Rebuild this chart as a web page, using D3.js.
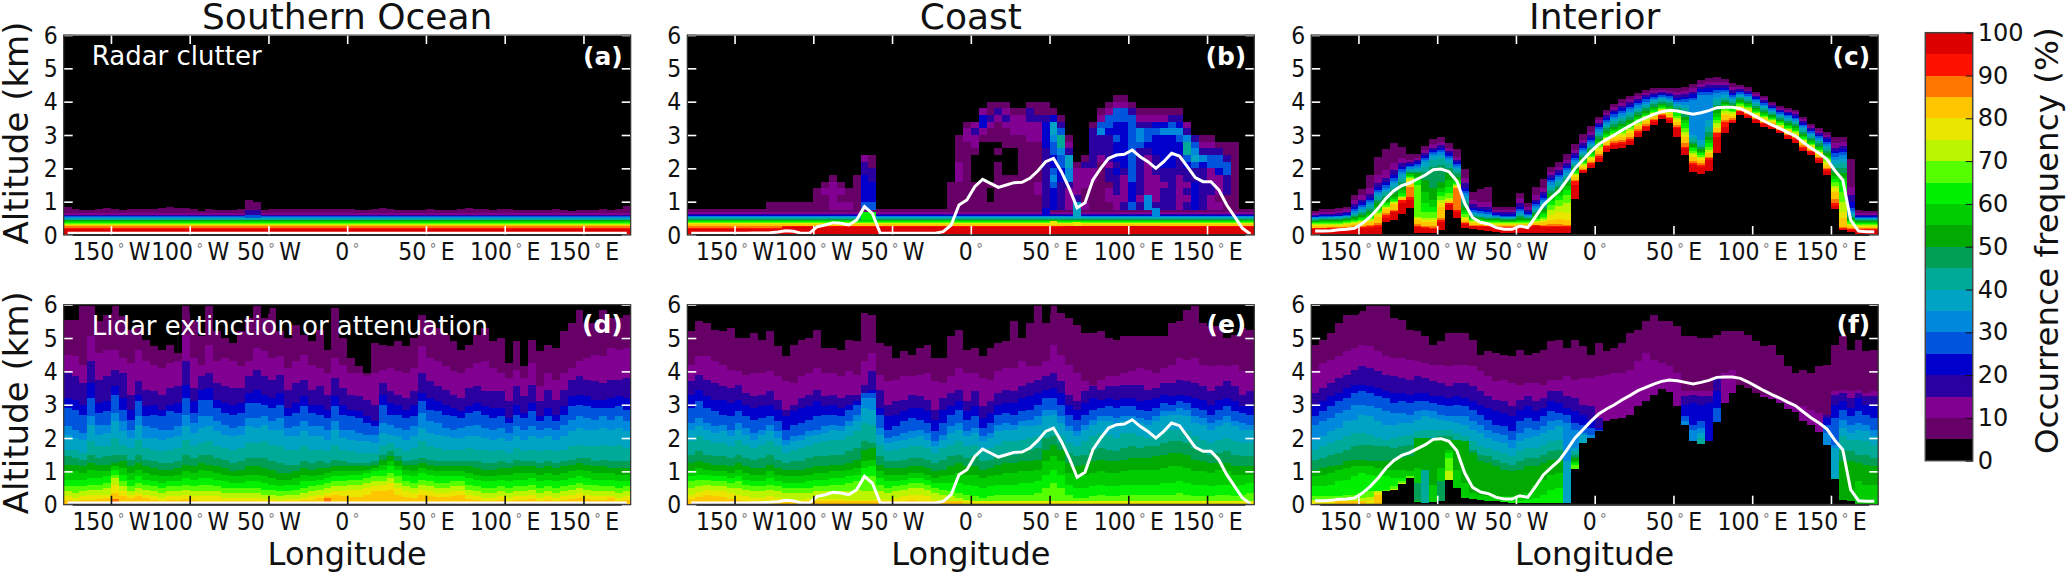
<!DOCTYPE html>
<html>
<head>
<meta charset="utf-8">
<script src="https://d3js.org/d3.v7.min.js"></script>
<style>
  body { margin: 0; background: #fff; }
  svg { display: block; font-family: "DejaVu Sans", sans-serif; }
  .cell { shape-rendering: crispEdges; }
</style>
</head>
<body>
<svg id="chart" width="2067" height="573"></svg>
<script>
// ======================
// Colour levels, 5 % wide (index 0 = 0-5 %)
// ======================
const levelColors = ["#000000","#660066","#820091","#2a00a0","#0000cc","#0055dd","#0088dd","#00a3c4","#00aa99","#009f55",
  "#00aa00","#00cc00","#00f000","#55ff00","#bbf600","#ebe600","#ffc600","#ff7700","#ff1100","#dd0000"];

const lonTicks = [-150, -100, -50, 0, 50, 100, 150];
const lonNames = [["150","W"],["100","W"],["50","W"],["0",""],["50","E"],["100","E"],["150","E"]];
const altTicks = [0, 1, 2, 3, 4, 5, 6];
const cbarTicks = [0, 10, 20, 30, 40, 50, 60, 70, 80, 90, 100];

// column centres, 5 degree bins
const lons = d3.range(-177.5, 180, 5);

// ======================
// Terrain lines (km), one value per column
// ======================
const elevOcean = [.05,.05,.05,.05,.05,.05,.05,.05,.05,.05,.05,.05, .05,.05,.05,.05,.05,.05,.05,.05,.05,.05,.05,.05, .05,.05,.05,.05,.05,.05,.05,.05,.05,.05,.05,.05, .05,.05,.05,.05,.05,.05,.05,.05,.05,.05,.05,.05, .05,.05,.05,.05,.05,.05,.05,.05,.05,.05,.05,.05, .05,.05,.05,.05,.05,.05,.05,.05,.05,.05,.05,.05];
const elevCoast = [.05,.05,.05,.05,.05,.05,.05,.05,.06,.06,.07,.09, .13,.11,.05,.05,.25,.3,.37,.35,.3,.45,.85,.65, .05,.05,.05,.05,.05,.05,.05,.05,.1,.3,.9,1.05, 1.45,1.67,1.55,1.43,1.5,1.57,1.58,1.7,1.92,2.2,2.3,1.9, 1.4,.82,.97,1.65,2.0,2.3,2.4,2.42,2.55,2.35,2.2,2.0, 2.2,2.45,2.37,2.05,1.72,1.6,1.6,1.35,.9,.55,.2,.03];
const elevInterior = [.12,.12,.13,.16,.17,.2,.35,.55,.8,1.1,1.33,1.48, 1.56,1.68,1.8,1.96,1.98,1.9,1.62,.95,.52,.38,.33,.22, .17,.17,.27,.22,.55,.9,1.12,1.33,1.65,2.0,2.25,2.5, 2.72,2.87,3.0,3.15,3.28,3.42,3.52,3.62,3.7,3.74,3.72,3.67, 3.62,3.67,3.73,3.82,3.83,3.83,3.79,3.68,3.55,3.42,3.3,3.2, 3.08,2.97,2.78,2.6,2.45,2.27,1.93,1.65,.45,.12,.1,.1];

// altitude below which nothing is retrieved over the interior (0.01 km)
const floorInterior = [0,0,0,0,0,0,0,0,0,40,45,62, 80,7,5,7,15,75,50,20,17,15,12,10, 7,5,5,5,5,5,5,5,5,108,185,200, 220,250,258,260,270,295,312,330,348,337,295,240, 190,183,192,247,305,335,360,350,335,324,318,305, 288,277,252,240,217,180,78,15,10,3,0,0];

// ======================
// Top altitude (0.01 km) of each colour level, level 1 first.
// A single number means the level stays flat along longitude.
// ======================
const oceanClutterTops = [
  [85,78,75,75,78,80,78,75,78,78,78,78, 80,85,82,80,78,73,78,75,75,75,78,105, 100,75,78,78,78,78,78,78,78,78,78,78, 78,75,75,78,80,78,75,75,75,75,78,75, 75,75,78,80,78,78,75,78,78,75,75,75, 75,75,78,75,72,75,75,75,78,75,78,88],
  66,60,58,56,54,51,49,46,44,41,39,36,34,31,29,26,22,19
];
const coastClutterTops = [
  77,68,62,60,58,56,53,51,49,46,44,42,39,37,35,32,28,
  [20,20,20,20,20,20,20,20,20,20,20,20, 26,26,26,26,26,26,26,26,26,26,26,26, 26,26,26,26,26,26,26,26,26,26,26,26, 28,28,28,28,28,28,28,28,28,28,28,28, 28,28,28,28,28,28,28,28,28,28,28,28, 28,28,28,28,28,28,28,28,28,28,28,28],
  [17,17,17,17,17,17,17,17,17,17,17,17, 24,24,24,24,24,24,24,24,24,24,24,24, 24,24,24,24,24,24,24,24,24,24,24,24, 25,25,25,25,25,25,25,25,25,25,25,25, 26,26,26,26,26,26,26,26,26,26,26,26, 25,25,25,25,25,25,25,25,25,25,25,25]
];
// coast, above 0.8 km: levels in 0.2 km steps, bottom up, one string per column
const coastUpperCols = ["","","","","","","","","","","1","1", "1","1","1","1","111","1121","22221","2121","211","11111","54444332","54443311",
  "","","","","","","","","","1111","11112221111","1111111111221",
  "1111000012232","111100000012442","1001000000112311","1111111010111231","1111100001112321","111110000112221","111111111112221","1111111111222331","1122111111222311","3333333334444311","444565445567741","33334455688531",
  "22236677321","7322221","21122231","1111223333331","111111123336521","1221332333345521","22333434445445521","32222344444445521","5444555555555531","323333333566321","662222223455321","322223334445421",
  "333233444446421","333333444446531","222223334456431","3232334588632","44443357653","33333346321","22332255321","2122245531","1133355311","1111111111","",""];

const interiorClutterTops = [
  [72,77,77,80,85,120,138,180,235,258,275,265, 243,243,268,287,293,275,257,198,130,137,145,85, 83,85,127,95,143,167,203,220,243,273,303,327, 355,375,393,407,418,425,435,440,441,440,441,445, 452,465,472,473,467,455,449,443,430,417,400,387, 382,375,355,333,320,310,293,293,227,75,72,72],
  [66,70,70,72,77,105,120,140,180,195,215,230, 225,232,255,272,280,260,235,170,105,100,100,76, 75,75,110,85,120,140,190,205,225,255,285,310, 346,366,384,397,408,416,426,433,434,433,430,433, 440,452,460,460,458,443,443,436,423,410,394,381, 375,368,348,326,313,301,275,280,145,66,65,65],
  [60,63,63,65,70,92,105,122,155,170,195,215, 218,225,245,262,270,252,225,155,92,85,85,70, 68,68,95,75,105,130,180,195,215,245,275,300, 337,359,375,388,399,408,419,426,429,427,420,422, 430,445,450,450,450,434,437,431,418,405,389,376, 370,362,342,321,307,293,260,268,120,60,60,60],
  [57,59,60,61,65,85,98,112,145,158,180,205, 212,218,238,255,262,245,218,140,82,78,75,65, 62,62,85,68,98,120,172,187,207,238,268,292, 331,352,369,381,391,402,413,420,424,421,412,415, 422,438,440,442,442,427,433,426,413,400,385,372, 365,357,336,316,301,287,252,258,100,57,57,57],
  [55,56,57,58,61,78,90,104,135,150,170,198, 208,212,232,250,255,238,212,132,75,72,68,60, 58,58,78,63,92,112,165,180,200,232,262,286, 324,346,362,373,384,395,407,415,420,416,406,408, 412,428,430,435,435,421,429,422,408,396,381,368, 360,352,331,312,296,280,245,250,80,55,55,55],
  [53,54,55,56,58,72,84,98,128,142,162,190, 203,207,226,243,248,232,207,125,70,66,63,57, 55,55,72,60,86,105,158,173,194,226,255,280, 317,340,355,366,377,389,400,409,415,411,400,400, 405,420,420,425,428,415,424,418,404,391,377,364, 356,347,326,307,291,274,235,240,72,52,52,52],
  [51,52,53,54,56,67,78,92,122,135,155,182, 198,202,220,236,240,226,202,118,65,62,59,55, 53,53,66,57,80,98,150,166,187,219,248,273, 310,334,348,358,369,382,394,404,410,406,394,390, 300,285,345,415,420,409,420,413,399,386,373,360, 351,343,321,302,286,267,225,228,66,50,50,50],
  [49,50,50,51,53,62,72,85,115,128,145,170, 194,196,205,225,230,215,195,105,60,58,55,53, 51,51,60,54,74,92,142,158,178,213,242,266, 304,327,342,351,362,376,388,398,406,401,388,380, 290,270,325,405,412,403,415,408,394,382,369,356, 346,338,316,298,281,260,212,215,60,47,47,47],
  [46,47,47,48,50,57,66,78,105,118,135,158, 190,190,190,205,210,200,185,95,56,54,52,50, 48,48,56,51,68,85,132,148,168,207,236,260, 296,320,334,342,353,368,381,392,400,395,382,370, 280,265,310,390,405,396,410,402,388,376,364,351, 341,332,310,292,275,253,200,200,55,45,45,45],
  [43,44,44,45,47,53,60,70,95,108,125,145, 186,185,165,140,160,185,175,85,53,50,48,47, 45,45,50,48,62,78,122,138,158,201,230,254, 288,312,325,333,344,360,373,385,394,388,376,355, 272,258,295,375,398,390,404,396,382,370,359,346, 335,326,303,286,268,245,188,185,50,42,42,42],
  [40,41,41,42,44,49,55,63,85,100,115,135, 182,175,130,105,140,165,165,75,50,47,45,44, 42,42,45,45,56,70,112,128,148,196,225,248, 281,306,319,326,337,354,367,380,390,383,370,345, 265,250,285,365,392,384,400,392,378,366,355,342, 330,321,298,282,263,238,178,172,46,39,39,39],
  [38,38,38,39,41,45,50,57,78,95,108,125, 178,165,95,85,130,145,158,68,47,44,42,41, 40,40,42,42,51,62,102,118,135,191,220,243, 274,300,312,319,329,347,361,374,385,378,365,335, 260,245,275,355,385,378,396,387,373,361,351,338, 326,316,293,277,258,232,168,160,42,36,36,36],
  [35,35,35,36,38,42,46,52,72,90,102,118, 175,150,70,68,118,125,153,62,44,42,40,38, 38,38,40,40,47,55,90,105,120,187,216,238, 269,295,307,313,323,342,356,370,381,374,358,320, 253,240,265,345,378,373,392,383,369,357,348,335, 322,312,289,273,254,227,158,130,38,33,33,33],
  [32,32,33,33,35,39,42,47,66,85,98,115, 170,55,52,52,105,110,150,55,41,39,37,36, 36,36,37,37,43,48,75,88,95,183,212,234, 263,290,301,307,317,337,351,365,378,370,350,310, 246,235,255,335,372,368,388,380,365,354,344,331, 318,308,285,270,250,222,148,100,34,30,30,30],
  [30,30,30,31,33,36,38,42,60,80,95,112, 165,50,46,45,95,105,148,50,38,36,35,34, 33,33,34,34,39,43,60,68,65,179,208,230, 258,285,296,301,311,331,346,361,374,366,345,300, 240,230,250,325,365,363,385,376,362,350,341,328, 314,304,281,266,246,216,140,70,30,27,27,27],
  [27,27,28,28,30,33,35,38,53,78,92,110, 158,45,40,38,85,102,145,45,36,34,32,31, 31,31,32,32,36,38,45,48,45,175,205,226, 252,280,290,295,305,326,342,356,370,362,340,295, 235,225,245,320,360,358,381,372,358,346,338,325, 311,300,277,262,242,211,130,50,27,25,25,25],
  [22,22,23,23,25,27,28,30,35,65,75,106, 145,32,28,26,50,97,140,38,31,29,28,27, 27,27,28,28,31,31,32,32,31,166,199,219, 243,271,281,285,295,317,333,349,364,355,330,275, 222,215,235,310,345,350,375,366,351,340,332,319, 304,294,270,256,235,202,108,25,21,20,20,20],
  [20,20,20,20,22,25,25,26,30,60,72,105, 115,28,24,22,45,95,75,35,28,27,26,25, 25,25,26,26,29,28,28,28,28,161,196,215, 238,266,276,279,289,312,328,344,360,350,325,265, 215,210,230,305,340,345,372,362,347,336,329,316, 300,290,265,252,230,197,95,20,18,18,17,17],
  [17,17,17,18,19,22,22,22,25,52,68,95, 105,24,20,18,40,90,70,32,26,24,24,23, 22,22,23,24,26,25,25,25,25,150,192,210, 232,261,270,273,283,307,323,340,356,346,320,260, 210,205,225,295,325,340,368,358,344,332,325,312, 296,286,261,248,226,192,88,17,15,15,15,15]
];

const oceanLidarTops = [
  [555,555,595,595,550,570,595,565,525,530,495,475, 465,480,455,595,550,505,595,520,500,485,520,560, 595,560,590,520,500,540,510,490,525,465,590,500, 440,415,395,485,480,475,490,475,500,570,550,530, 510,490,465,480,510,530,490,500,425,490,415,495, 460,480,470,520,545,585,545,545,585,560,560,570],
  [450,445,420,505,455,465,465,440,425,465,430,420, 410,425,430,510,440,420,480,430,440,430,415,430, 470,460,440,445,410,430,450,420,410,395,440,420, 395,395,385,395,405,410,400,395,410,475,440,430, 415,400,395,410,425,430,410,395,380,405,380,425, 355,395,375,395,410,430,440,450,445,470,465,470],
  [395,385,365,430,375,385,405,395,330,370,345,340, 330,350,355,430,350,385,395,365,355,350,350,385, 405,385,375,390,345,365,375,345,355,330,380,350, 330,325,315,300,365,340,330,320,340,395,370,355, 345,330,320,350,355,340,340,340,310,355,325,360, 310,345,315,345,375,385,375,370,365,375,375,380],
  [320,315,300,365,305,310,355,320,285,330,295,300, 285,300,305,360,310,345,350,315,305,300,305,335, 345,330,320,335,290,305,325,300,300,285,325,300, 285,280,265,250,330,305,300,285,300,335,320,310, 300,290,280,295,305,295,290,290,260,300,275,305, 265,290,270,295,325,330,325,315,315,320,325,320],
  [290,285,270,320,275,280,330,285,255,310,265,270, 265,280,275,320,275,315,315,290,275,270,275,305, 305,300,290,300,265,275,295,275,270,260,295,270, 265,260,245,235,300,270,270,260,265,310,285,280, 270,265,260,275,280,270,260,265,245,270,260,280, 250,265,250,270,295,300,295,290,290,290,295,285],
  [235,225,215,265,240,240,275,250,225,265,235,230, 225,225,235,270,245,265,265,250,240,230,235,260, 260,265,250,260,230,235,250,235,235,225,250,225, 225,215,210,210,245,240,230,225,235,275,250,245, 230,225,230,235,240,230,225,230,215,235,225,235, 225,230,225,240,255,265,260,255,265,255,265,250],
  [210,200,195,240,210,215,250,220,200,240,200,200, 195,200,205,235,215,230,235,220,210,205,210,235, 230,240,225,225,205,205,220,205,205,195,225,200, 195,190,190,185,215,210,205,195,205,230,215,210, 205,200,200,205,205,200,195,200,190,205,195,205, 200,205,195,205,220,230,225,225,230,225,230,220],
  [165,165,155,190,175,175,200,180,170,195,170,165, 160,165,170,195,175,185,190,175,170,165,170,185, 185,190,180,175,165,165,175,165,165,160,180,165, 160,155,155,155,175,185,170,160,170,190,175,170, 165,165,165,170,165,165,160,165,155,170,160,165, 160,165,160,165,175,180,175,175,180,175,180,170],
  [145,140,135,150,140,145,150,150,135,150,135,130, 125,125,130,150,140,150,150,140,135,125,130,140, 140,140,130,125,120,120,130,125,130,125,135,130, 125,125,125,130,150,160,145,130,135,140,135,130, 130,130,130,130,130,125,125,130,125,135,130,130, 125,130,125,130,135,140,140,130,135,130,130,130],
  [120,120,115,125,120,120,125,130,115,125,115,110, 105,105,110,120,115,125,120,115,110,100,105,115, 115,110,105,95,95,100,110,105,110,110,115,115, 115,115,115,120,135,145,130,120,120,125,120,115, 115,115,115,115,110,105,105,110,110,115,115,115, 110,115,110,115,120,125,120,115,115,110,110,110],
  [100,100,95,105,100,100,115,110,95,105,95,90, 85,85,90,100,95,105,100,95,90,85,85,90, 90,85,80,75,75,80,90,85,90,95,100,100, 100,100,105,110,120,130,115,105,100,110,105,100, 100,100,100,95,90,85,85,90,90,95,95,95, 90,95,90,95,100,105,100,95,95,95,90,90],
  [75,75,75,80,80,85,105,90,75,85,75,70, 65,70,70,80,75,80,80,75,70,65,65,70, 70,65,60,55,60,60,70,70,75,80,85,85, 90,90,95,100,105,115,105,90,85,95,90,85, 85,85,85,80,75,70,70,75,70,75,75,80, 70,75,70,75,80,85,80,75,75,75,70,70],
  [55,55,55,60,60,65,90,70,55,65,60,55, 50,55,55,60,55,60,60,55,50,50,50,50, 50,45,45,40,40,45,50,55,60,65,70,70, 75,75,80,85,85,95,85,70,65,75,70,65, 65,70,70,60,55,50,50,55,50,55,55,60, 50,55,50,55,60,65,60,60,55,55,50,55],
  [40,35,40,45,45,50,80,55,40,50,45,40, 35,40,40,45,40,40,40,40,35,35,35,35, 35,30,30,25,30,30,35,40,45,50,55,55, 60,60,65,70,70,80,65,55,50,60,55,50, 50,55,55,45,40,35,35,40,35,40,40,45, 35,40,35,40,45,50,45,40,40,40,35,40],
  [25,20,25,30,30,30,60,40,30,35,30,25, 20,25,25,30,25,25,25,25,20,20,20,20, 20,18,18,15,18,18,20,25,30,35,40,40, 45,45,50,55,60,65,50,40,35,45,40,35, 35,40,40,30,25,20,20,25,20,25,25,30, 20,25,20,25,30,35,30,25,25,25,20,25],
  [15,12,15,15,18,20,35,25,20,25,20,15, 12,15,15,18,15,12,12,12,12,12,12,12, 12,10,10,10,10,12,15,15,20,25,30,25, 22,22,28,40,42,45,28,22,20,30,25,22, 22,25,28,18,15,12,12,15,12,15,15,18, 12,15,12,15,18,20,18,15,15,20,12,15],
  [0,0,0,0,0,0,18,0,0,0,0,0, 0,0,0,0,0,0,0,0,0,0,0,0, 0,0,0,0,0,0,0,0,0,20,0,0, 0,0,0,0,0,0,0,0,0,0,0,0, 0,0,0,0,0,0,0,0,0,0,0,0, 0,0,0,0,0,0,0,0,0,0,0,0]
];

const coastLidarTops = [
  [520,550,545,525,520,530,500,500,515,495,520,475, 445,480,495,500,525,470,470,465,495,490,575,570, 485,475,440,460,450,470,480,440,440,505,525,465, 470,445,470,485,490,550,500,545,595,545,595,575, 560,540,515,515,520,500,495,505,505,505,505,505, 505,545,550,585,595,545,535,535,500,510,530,525],
  [420,445,445,430,420,405,400,390,395,395,400,385, 370,365,385,395,410,395,395,385,400,390,430,455, 390,370,375,385,385,390,395,370,365,385,410,395, 395,380,375,400,410,410,430,415,415,430,480,450, 420,395,370,360,375,385,385,395,400,410,405,395, 410,420,440,435,440,420,415,420,415,420,400,395],
  [370,390,375,365,355,350,360,335,325,330,340,315, 285,300,320,330,345,325,330,320,330,330,360,400, 345,300,310,315,330,325,315,285,320,335,345,310, 340,295,310,335,345,340,355,365,375,385,395,370, 330,310,340,355,345,355,355,360,360,360,345,350, 365,365,375,370,365,355,340,355,370,355,330,340],
  [330,345,325,315,315,305,315,300,290,295,300,285, 265,280,290,295,310,295,300,290,300,310,330,345, 290,265,270,280,290,290,280,255,285,295,310,280, 295,260,275,300,305,305,320,325,335,345,350,335, 300,285,305,320,315,320,315,320,320,310,315,320, 330,325,330,325,320,315,300,315,320,310,295,300],
  [290,310,290,280,270,265,280,265,255,260,265,250, 225,240,245,255,265,270,270,265,285,300,335,335, 270,225,235,250,260,255,245,220,245,270,285,255, 265,230,245,270,275,270,280,285,300,320,320,300, 270,255,270,285,290,295,290,295,295,285,280,290, 305,300,310,305,290,285,270,285,295,280,275,270],
  [245,260,245,235,240,225,245,230,215,225,240,220, 195,205,210,220,225,235,240,235,250,270,320,320, 230,200,205,215,220,225,215,190,210,235,245,220, 230,205,215,240,245,240,250,255,265,285,285,265, 235,220,240,255,265,265,260,265,265,260,255,265, 280,280,290,285,265,260,245,255,265,250,245,240],
  [225,235,225,215,220,205,225,210,195,210,220,200, 180,190,195,205,210,215,225,220,235,250,290,285, 210,185,190,195,200,205,195,175,195,215,225,205, 215,190,200,220,225,225,235,235,240,265,270,245, 220,205,225,240,250,250,240,250,250,245,240,250, 265,270,270,265,245,240,225,235,245,235,225,225],
  [190,205,195,185,185,175,195,180,170,180,190,175, 155,165,170,175,185,190,195,195,205,220,245,240, 180,160,165,170,175,175,170,155,170,180,190,175, 180,165,170,180,190,190,195,200,205,225,230,205, 185,175,190,205,215,210,200,215,215,205,200,210, 220,225,225,220,205,195,185,195,200,190,185,185],
  [150,160,150,145,145,140,150,140,135,140,150,135, 125,130,130,140,145,145,150,150,160,170,190,185, 145,130,130,135,140,140,135,125,135,145,150,140, 145,130,135,145,150,150,160,165,170,200,205,185, 155,145,150,165,170,165,160,170,175,170,175,175, 185,190,190,185,170,165,150,155,160,150,145,145],
  [125,130,125,120,120,115,125,115,110,110,120,110, 105,105,105,110,115,115,120,120,125,135,165,170, 120,110,110,110,115,115,110,100,105,115,125,115, 115,105,110,120,125,125,130,130,135,165,180,165, 125,115,120,130,135,130,130,135,140,140,140,145, 150,155,155,150,135,130,125,125,125,115,115,115],
  [105,110,105,100,100,95,105,95,90,90,100,90, 85,85,85,90,95,95,100,100,105,110,130,135, 100,90,90,90,95,95,90,80,85,90,95,90, 90,80,85,90,95,95,100,100,105,130,145,130, 95,85,90,95,100,95,95,100,105,105,105,105, 110,115,115,110,100,100,95,105,100,90,90,90],
  [85,90,90,85,85,80,85,75,70,70,80,70, 65,65,65,70,75,75,80,80,85,90,110,115, 80,70,70,75,80,80,75,65,65,65,65,60, 55,50,55,60,60,60,65,65,70,90,105,90, 60,50,50,55,60,55,55,60,60,60,60,60, 65,65,70,65,60,60,55,60,60,55,60,65],
  [70,75,75,70,70,65,70,60,55,55,60,55, 50,50,50,50,55,55,60,60,65,70,85,85, 60,50,55,60,65,65,60,50,45,40,35,30, 25,20,25,30,30,30,30,30,35,50,65,50, 30,20,20,25,30,25,25,30,30,30,30,30, 30,30,35,30,25,25,25,30,30,25,30,35],
  [50,55,60,55,55,50,50,45,40,40,45,40, 35,35,35,35,40,40,40,40,40,45,40,40, 40,35,40,45,50,50,45,35,30,25,20,15, 12,12,12,12,12,12,12,12,12,12,12,12, 12,12,12,12,12,12,12,12,12,12,12,12, 12,12,12,12,12,12,12,12,12,12,12,12],
  [30,38,45,42,40,35,30,25,20,20,25,20, 15,15,15,18,18,18,18,18,15,15,15,15, 18,15,20,25,30,30,25,15,12,12,12,10, 10,10,10,10,10,10,10,10,10,10,10,10, 10,10,10,10,10,10,10,10,10,10,10,10, 10,10,10,10,10,10,10,10,10,10,10,10],
  [18,22,28,25,22,18,15,12,10,10,10,10, 10,10,10,10,10,10,10,10,10,10,10,10, 10,10,10,12,15,12,10,10,10,10,10,0, 0,0,0,0,0,0,0,0,0,0,0,0, 0,0,0,0,0,0,0,0,0,0,0,0, 0,0,0,0,0,0,0,0,0,0,0,0]
];

const interiorLidarTops = [
  [480,495,515,545,570,570,580,595,595,595,560,555, 525,520,505,480,490,515,515,515,495,450,460,455, 450,445,465,450,455,465,490,495,470,495,475,450, 485,460,470,485,515,525,550,570,550,550,535,505, 505,500,500,510,520,520,520,510,490,475,480,450, 415,395,405,395,415,420,480,505,465,495,460,465],
  [405,425,435,445,460,470,480,475,460,445,440,440, 435,430,425,420,420,415,420,420,415,400,385,370, 375,365,360,365,365,360,375,375,385,375,380,380, 385,390,395,395,405,430,455,435,425,415,395,340, 340,340,340,380,395,405,360,345,335,330,325,320, 310,300,295,285,275,265,340,345,340,345,335,340],
  [335,350,365,380,390,405,415,410,400,390,385,380, 375,385,380,370,365,355,365,365,355,340,325,315, 310,295,315,325,310,320,340,340,325,320,300,295, 260,0,0,0,0,0,0,0,0,0,0,325, 330,325,325,380,0,0,0,0,0,0,0,0, 0,0,0,0,0,270,330,335,320,335,325,325],
  [295,310,325,335,350,360,360,355,350,340,335,335, 330,335,335,325,325,320,325,320,310,300,290,280, 275,265,285,295,280,290,310,305,290,280,270,255, 230,0,0,0,0,0,0,0,0,0,0,300, 305,300,305,340,0,0,0,0,0,0,0,0, 0,0,0,0,0,260,300,310,290,320,300,300],
  [265,280,295,310,320,335,340,335,325,320,305,310, 305,310,310,305,300,295,300,295,285,270,255,240, 235,220,250,260,250,265,280,275,270,245,240,230, 225,0,0,0,0,0,0,0,0,0,0,265, 240,250,0,290,0,0,0,0,0,0,0,0, 0,0,0,0,0,240,260,285,265,280,270,260],
  [240,250,260,275,285,300,300,295,290,280,275,275, 270,280,285,280,270,265,265,265,250,240,225,215, 210,195,215,230,225,235,250,255,245,225,215,210, 0,0,0,0,0,0,0,0,0,0,0,250, 225,230,0,0,0,0,0,0,0,0,0,0, 0,0,0,0,0,215,180,255,240,245,240,225],
  [195,205,220,230,250,255,270,265,250,240,240,245, 245,255,265,260,255,250,245,240,225,215,200,190, 185,170,190,200,205,215,225,235,130,170,210,0, 0,0,0,0,0,0,0,0,0,0,0,0, 0,215,0,0,0,0,0,0,0,0,0,0, 0,0,0,0,0,0,170,230,215,225,220,205],
  [165,175,185,195,205,215,215,210,200,195,200,205, 210,220,225,225,225,225,215,205,190,175,170,160, 155,145,160,170,170,180,190,195,0,160,0,0, 0,0,0,0,0,0,0,0,0,0,0,0, 0,200,0,0,0,0,0,0,0,0,0,0, 0,0,0,0,0,0,80,205,195,195,190,180],
  [135,140,150,155,165,175,180,180,175,175,170,175, 180,190,195,200,205,205,195,185,165,150,145,135, 125,120,130,140,140,150,160,165,0,150,0,0, 0,0,0,0,0,0,0,0,0,0,0,0, 0,0,0,0,0,0,0,0,0,0,0,0, 0,0,0,0,0,0,0,165,160,150,150,140],
  [105,110,115,120,130,135,135,130,130,130,135,140, 145,200,200,195,195,195,195,190,155,130,125,115, 105,100,105,115,115,125,135,135,0,140,0,0, 0,0,0,0,0,0,0,0,0,0,0,0, 0,0,0,0,0,0,0,0,0,0,0,0, 0,0,0,0,0,0,0,130,130,125,120,115],
  [85,90,95,105,110,115,115,115,110,105,105,105, 100,110,60,60,110,165,105,65,35,30,25,25, 25,25,30,35,60,75,90,95,0,130,0,0, 0,0,0,0,0,0,0,0,0,0,0,0, 0,0,0,0,0,0,0,0,0,0,0,0, 0,0,0,0,0,0,0,0,0,70,60,60],
  [55,55,60,70,75,85,95,90,85,85,80,80, 80,0,0,0,0,155,0,0,0,0,0,0, 12,12,12,15,20,30,45,50,0,125,0,0, 0,0,0,0,0,0,0,0,0,0,0,0, 0,0,0,0,0,0,0,0,0,0,0,0, 0,0,0,0,0,0,0,0,0,0,0,0],
  [25,25,25,25,30,30,35,40,42,45,55,70, 85,0,0,0,0,140,0,0,0,0,0,0, 0,0,0,0,0,0,0,0,0,120,0,0, 0,0,0,0,0,0,0,0,0,0,0,0, 0,0,0,0,0,0,0,0,0,0,0,0, 0,0,0,0,0,0,0,0,0,0,0,0],
  [15,15,15,15,18,18,20,22,40,40,48,65, 0,0,0,0,0,100,0,0,0,0,0,0, 0,0,0,0,0,0,0,0,0,0,0,0, 0,0,0,0,0,0,0,0,0,0,0,0, 0,0,0,0,0,0,0,0,0,0,0,0, 0,0,0,0,0,0,0,0,0,0,0,0],
  [12,12,12,12,12,12,12,15,38,0,0,0, 0,0,0,0,0,0,0,0,0,0,0,0, 0,0,0,0,0,0,0,0,0,0,0,0, 0,0,0,0,0,0,0,0,0,0,0,0, 0,0,0,0,0,0,0,0,0,0,0,0, 0,0,0,0,0,0,0,0,0,0,0,0],
  [0,0,0,10,10,10,10,0,30,0,0,0, 0,0,0,0,0,0,0,0,0,0,0,0, 0,0,0,0,0,0,0,0,0,0,0,0, 0,0,0,0,0,0,0,0,0,0,0,0, 0,0,0,0,0,0,0,0,0,0,0,0, 0,0,0,0,0,0,0,0,0,0,0,0]
];

// anomalies that break the stacking: [lon from, lon to, alt from, alt to, level] (alt in 0.01 km)
const oceanClutterPatches = [[-65,-55,60,75,3],[-65,-55,52,60,5]];
const coastClutterPatches = [[65,70,55,80,7],[115,120,55,80,6],[45,50,60,80,4],[-70,-60,45,68,12],[50,55,30,42,15],[65,70,28,40,15]];
const interiorLidarPatches = [[-110,-105,5,105,8],[-115,-110,10,65,9],[-100,-95,10,70,9]];

// ======================
// Layout
// ======================
const colLefts = [63.7, 687.3, 1311.2];
const rowTops = [35, 304.7];
const panelW = 567;
const panelH = 200;
const tickLen = 9;
const squeeze = 0.88; // tick labels are narrower than they are tall in the reference

const panels = [
  { id: "(a)", col: 0, row: 0, tops: oceanClutterTops, patches: oceanClutterPatches, elev: elevOcean, title: "Southern Ocean", note: "Radar clutter", lowTick: "#fff", highTick: "#fff" },
  { id: "(b)", col: 1, row: 0, tops: coastClutterTops, upper: coastUpperCols, patches: coastClutterPatches, elev: elevCoast, title: "Coast", lowTick: "#fff", highTick: "#fff" },
  { id: "(c)", col: 2, row: 0, tops: interiorClutterTops, floor: floorInterior, elev: elevInterior, title: "Interior", lowTick: "#fff", highTick: "#fff" },
  { id: "(d)", col: 0, row: 1, tops: oceanLidarTops, elev: elevOcean, note: "Lidar extinction or attenuation", lowTick: "#111", highTick: "#000" },
  { id: "(e)", col: 1, row: 1, tops: coastLidarTops, elev: elevCoast, lowTick: "#111", highTick: "#000" },
  { id: "(f)", col: 2, row: 1, tops: interiorLidarTops, floor: floorInterior, patches: interiorLidarPatches, elev: elevInterior, lowTick: "#fff", highTick: "#000" }
];

const svg = d3.select("#chart");
panels.forEach(drawPanel);
drawColorbar();

function drawPanel(p) {
  const left = colLefts[p.col];
  const top = rowTops[p.row];
  const g = svg.append("g").attr("transform", `translate(${left},${top})`);

  const x = d3.scaleLinear().domain([-180, 180]).range([0, panelW]);
  const y = d3.scaleLinear().domain([0, 6]).range([panelH, 0]);

  g.append("rect").attr("width", panelW).attr("height", panelH).attr("fill", "#000");

  // one rect per level and column, painted from low to high level
  const cells = [];
  p.tops.forEach((row, k) => {
    lons.forEach((lon, i) => {
      const topVal = typeof row === "number" ? row : row[i];
      const base = p.floor ? p.floor[i] : 0;
      if (topVal > base) cells.push({ x0: lon - 2.5, x1: lon + 2.5, a0: base, a1: topVal, level: k + 1 });
    });
  });
  if (p.upper) {
    p.upper.forEach((col, i) => {
      col.split("").forEach((ch, r) => {
        cells.push({ x0: lons[i] - 2.5, x1: lons[i] + 2.5, a0: r === 0 ? 75 : 80 + r * 20, a1: 100 + r * 20, level: +ch });
      });
    });
  }
  (p.patches || []).forEach(d => cells.push({ x0: d[0], x1: d[1], a0: d[2], a1: d[3], level: d[4] }));

  g.selectAll("rect.cell")
    .data(cells)
    .enter()
    .append("rect")
    .attr("class", "cell")
    .attr("x", d => x(d.x0))
    .attr("width", d => x(d.x1) - x(d.x0))
    .attr("y", d => y(d.a1 / 100))
    .attr("height", d => y(d.a0 / 100) - y(d.a1 / 100))
    .attr("fill", d => levelColors[d.level]);

  // terrain line
  const line = d3.line().x((d, i) => x(lons[i])).y(d => y(d));
  g.append("path")
    .datum(p.elev)
    .attr("d", line)
    .attr("fill", "none")
    .attr("stroke", "#fff")
    .attr("stroke-width", 3);

  // dark base line under the terrain line
  g.append("line")
    .attr("x1", x(lons[0])).attr("x2", x(lons[lons.length - 1]))
    .attr("y1", y(0)).attr("y2", y(0))
    .attr("stroke", "#222").attr("stroke-width", 2);

  // axes
  const bottom = g.append("g").attr("transform", `translate(0,${panelH})`)
    .call(d3.axisBottom(x).tickValues(lonTicks).tickSize(-tickLen).tickFormat(""));
  bottom.select(".domain").remove();
  bottom.selectAll("line").attr("stroke", p.lowTick).attr("stroke-width", 1.6);
  bottom.selectAll("text").each(function (d, i) {
    const t = d3.select(this).text(null).attr("y", 25).attr("dy", 0)
      .attr("transform", `scale(${squeeze},1)`)
      .attr("font-size", 25).attr("font-family", "DejaVu Sans").attr("fill", "#111");
    t.append("tspan").text(lonNames[i][0]);
    t.append("tspan").attr("dx", 3).attr("dy", -10).attr("font-size", 15).attr("fill", "#777").text("\u2218");
    t.append("tspan").attr("dx", lonNames[i][1] ? 4 : 0).attr("dy", 10).text(lonNames[i][1]);
  });

  const topAxis = g.append("g").call(d3.axisTop(x).tickValues(lonTicks).tickSize(-tickLen).tickFormat(""));
  topAxis.select(".domain").remove();
  topAxis.selectAll("line").attr("stroke", p.highTick).attr("stroke-width", 1.6);

  const leftAxis = g.append("g").call(d3.axisLeft(y).tickValues(altTicks).tickSize(-tickLen).tickFormat(d3.format("d")));
  leftAxis.select(".domain").remove();
  leftAxis.selectAll("line").attr("stroke", "#fff").attr("stroke-width", 1.6);
  leftAxis.selectAll("text").attr("x", -6 / squeeze).attr("transform", `scale(${squeeze},1)`)
    .attr("font-size", 25).attr("font-family", "DejaVu Sans").attr("fill", "#111");

  const rightAxis = g.append("g").attr("transform", `translate(${panelW},0)`)
    .call(d3.axisRight(y).tickValues(altTicks).tickSize(-tickLen).tickFormat(""));
  rightAxis.select(".domain").remove();
  rightAxis.selectAll("line").attr("stroke", "#fff").attr("stroke-width", 1.6);

  // frame
  g.append("rect").attr("width", panelW).attr("height", panelH)
    .attr("fill", "none").attr("stroke", "#333").attr("stroke-width", 1.2);
  if (p.row === 0) {
    g.append("line").attr("x1", tickLen).attr("x2", panelW - tickLen).attr("y1", 0).attr("y2", 0)
      .attr("stroke", "#bbb").attr("stroke-width", 1.2);
  }

  // texts
  if (p.title) {
    g.append("text").attr("x", panelW / 2).attr("y", -6.5).attr("text-anchor", "middle")
      .attr("font-size", 36).attr("fill", "#111").text(p.title);
  }
  if (p.note) {
    g.append("text").attr("x", 28).attr("y", 30).attr("font-size", 26).attr("fill", "#fff").text(p.note);
  }
  g.append("text").attr("x", panelW - 8).attr("y", p.row === 0 ? 30 : 28).attr("text-anchor", "end")
    .attr("font-size", 25).attr("font-weight", "bold").attr("fill", "#fff").text(p.id);

  if (p.col === 0) {
    g.append("text")
      .attr("transform", `translate(${-36},${panelH / 2 - 2}) rotate(-90)`)
      .attr("text-anchor", "middle").attr("font-size", 34).attr("fill", "#111").text("Altitude (km)");
  }
  if (p.row === 1) {
    g.append("text").attr("x", panelW / 2).attr("y", 260).attr("text-anchor", "middle")
      .attr("font-size", 32).attr("fill", "#111").text("Longitude");
  }
}

// ======================
// Colorbar
// ======================
function drawColorbar() {
  const barLeft = 1925.3, barWidth = 47.4, barTop = 32.7, barBottom = 460.7;
  const c = d3.scaleLinear().domain([0, 100]).range([barBottom, barTop]);
  const g = svg.append("g");

  g.selectAll("rect.level")
    .data(levelColors)
    .enter()
    .append("rect")
    .attr("class", "level cell")
    .attr("x", barLeft)
    .attr("width", barWidth)
    .attr("y", (d, i) => c((i + 1) * 5))
    .attr("height", (d, i) => c(i * 5) - c((i + 1) * 5))
    .attr("fill", d => d);

  g.append("rect").attr("x", barLeft).attr("y", barTop).attr("width", barWidth).attr("height", barBottom - barTop)
    .attr("fill", "none").attr("stroke", "#444").attr("stroke-width", 1.5);

  const axis = g.append("g").attr("transform", `translate(${barLeft + barWidth},0)`)
    .call(d3.axisRight(c).tickValues(cbarTicks).tickSize(-7).tickPadding(5));
  axis.select(".domain").remove();
  axis.selectAll("line").attr("stroke", "#111").attr("stroke-width", 1);
  axis.selectAll("text").attr("font-size", 24).attr("font-family", "DejaVu Sans").attr("fill", "#111");

  g.append("text")
    .attr("transform", `translate(2058,${(barTop + barBottom) / 2 - 6}) rotate(-90)`)
    .attr("text-anchor", "middle").attr("font-size", 32.6).attr("fill", "#111").text("Occurrence frequency (%)");
}
</script>
</body>
</html>
